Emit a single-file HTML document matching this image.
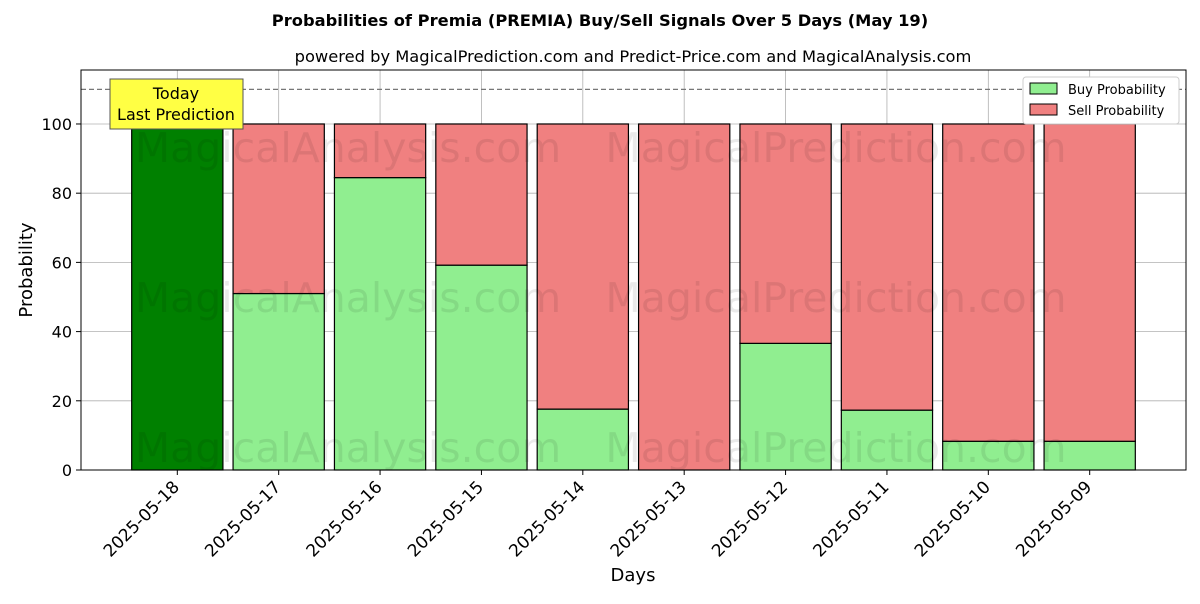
<!DOCTYPE html>
<html><head><meta charset="utf-8"><style>
body{margin:0;background:#fff;font-family:"DejaVu Sans","Liberation Sans",sans-serif;}
</style></head><body>
<svg width="1200" height="600" xmlns="http://www.w3.org/2000/svg" id="svg">
<text x="600" y="26" text-anchor="middle" font-size="16.3" font-weight="bold">Probabilities of Premia (PREMIA) Buy/Sell Signals Over 5 Days (May 19)</text>
<text x="633" y="62" text-anchor="middle" font-size="16.3">powered by MagicalPrediction.com and Predict-Price.com and MagicalAnalysis.com</text>
<g id="grid"></g>
<g id="bars"></g>
<g font-size="41" fill="#000" opacity="0.08">
<text x="348" y="162" text-anchor="middle">MagicalAnalysis.com</text>
<text x="836" y="162" text-anchor="middle">MagicalPrediction.com</text>
<text x="348" y="312" text-anchor="middle">MagicalAnalysis.com</text>
<text x="836" y="312" text-anchor="middle">MagicalPrediction.com</text>
<text x="348" y="462" text-anchor="middle">MagicalAnalysis.com</text>
<text x="836" y="462" text-anchor="middle">MagicalPrediction.com</text>
</g>
<line x1="81" x2="1186" id="refline" stroke="#777" stroke-dasharray="5,3" stroke-width="1.2"/>
<rect x="81" y="70" width="1105" height="400" fill="none" stroke="#000" stroke-width="1"/>
<g id="axes" font-size="16"></g>
<g>
<rect x="110" y="79" width="133" height="50" fill="#ffff44" stroke="#555"/>
<text x="176" y="99" text-anchor="middle" font-size="16">Today</text>
<text x="176" y="120" text-anchor="middle" font-size="16">Last Prediction</text>
</g>
<g font-size="13">
<rect x="1023" y="77" width="156" height="47" fill="#fff" stroke="#ccc" rx="3"/>
<rect x="1030" y="83" width="27" height="11" fill="#90ee90" stroke="#000"/>
<text x="1068" y="94">Buy Probability</text>
<rect x="1030" y="104" width="27" height="11" fill="#f08080" stroke="#000"/>
<text x="1068" y="115">Sell Probability</text>
</g>
<text x="633" y="581" text-anchor="middle" font-size="18">Days</text>
<text transform="translate(32,270) rotate(-90)" text-anchor="middle" font-size="18">Probability</text>
</svg>
<script>
const categories=["2025-05-18","2025-05-17","2025-05-16","2025-05-15","2025-05-14","2025-05-13","2025-05-12","2025-05-11","2025-05-10","2025-05-09"];
const buyValues=[100,51,84.5,59.2,17.6,0,36.6,17.3,8.3,8.3];
const sellValues=[0,49,15.5,40.8,82.4,100,63.4,82.7,91.7,91.7];
const yTicks=[0,20,40,60,80,100];
const thresholdValue=110;
const NS="http://www.w3.org/2000/svg";
const X0=81,X1=1186,Y0=470,Y1=70;
const xs=i=>X0+(i+0.95)/(categories.length-1+1.9)*(X1-X0);
const ys=v=>Y0-v/115.6*(Y0-Y1);
const bw=(X1-X0)/(categories.length-1+1.9)*0.9;
function mk(t,a,p){const e=document.createElementNS(NS,t);for(const k in a)e.setAttribute(k,a[k]);p.appendChild(e);return e;}
const grid=document.getElementById('grid'),bars=document.getElementById('bars'),axes=document.getElementById('axes');
yTicks.forEach(v=>{const y=ys(v);
const g=mk('line',{x1:X0,x2:X1,y1:y,y2:y,stroke:'#b0b0b0','stroke-width':0.8},grid);


mk('line',{x1:X0-5,x2:X0,y1:y,y2:y,stroke:'#000'},axes);
const t=mk('text',{x:X0-9,y:y+6,'text-anchor':'end'},axes);t.textContent=v;

});
categories.forEach((c,i)=>{const x=xs(i);
const g=mk('line',{x1:x,x2:x,y1:Y1,y2:Y0,stroke:'#b0b0b0','stroke-width':0.8},grid);


const b=mk('rect',{x:x-bw/2,y:ys(buyValues[i]),width:bw,height:ys(0)-ys(buyValues[i]),fill:i==0?'#008000':'#90ee90',stroke:'#000','stroke-width':1.2},bars);


const s=mk('rect',{x:x-bw/2,y:ys(buyValues[i]+sellValues[i]),width:bw,height:ys(buyValues[i])-ys(buyValues[i]+sellValues[i]),fill:'#f08080',stroke:'#000','stroke-width':1.2},bars);


mk('line',{x1:x,x2:x,y1:Y0,y2:Y0+5,stroke:'#000'},axes);
const t=mk('text',{transform:`translate(${x+3},${Y0+18}) rotate(-45)`,'text-anchor':'end','font-size':17},axes);t.textContent=c;

});
const rl=document.getElementById('refline');rl.setAttribute('y1',ys(thresholdValue));rl.setAttribute('y2',ys(thresholdValue));
</script>
</body></html>
